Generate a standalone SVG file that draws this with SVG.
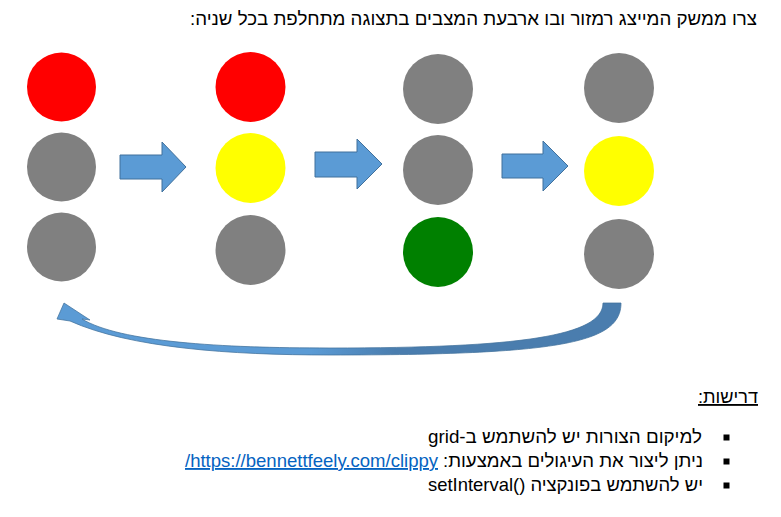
<svg xmlns="http://www.w3.org/2000/svg" width="781" height="517" viewBox="0 0 781 517">
<style>
.t{font-family:"Liberation Sans","DejaVu Sans",sans-serif;font-size:18.5px;fill:#000}
.r{fill:#FF0000}.y{fill:#FFFF00}.g{fill:#808080}.gr{fill:#008000}
.arr{fill:#5B9BD5;stroke:#41719C;stroke-width:1}
.link{font-family:"Liberation Sans","DejaVu Sans",sans-serif;font-size:18.5px;fill:#0563C1;text-decoration:underline}
</style>
<defs>
<linearGradient id="cg" x1="0" y1="0" x2="1" y2="0">
<stop offset="0" stop-color="#5B9BD5"/>
<stop offset="0.45" stop-color="#5B9BD5"/>
<stop offset="0.6" stop-color="#4A7DAE"/>
<stop offset="1" stop-color="#4A7DAE"/>
</linearGradient>
</defs>
<rect width="781" height="517" fill="#fff"/>
<text class="t" x="757" y="25" direction="rtl" text-anchor="start" textLength="567" lengthAdjust="spacingAndGlyphs">צרו ממשק המייצג רמזור ובו ארבעת המצבים בתצוגה מתחלפת בכל שניה:</text>
<g id="light1">
<circle class="r" cx="61.5" cy="87" r="34.5"/>
<circle class="g" cx="61.5" cy="167" r="34.5"/>
<circle class="g" cx="61.5" cy="247" r="34.5"/>
</g>
<g id="light2">
<circle class="r" cx="250.5" cy="87" r="35"/>
<circle class="y" cx="250.5" cy="168" r="35"/>
<circle class="g" cx="250.5" cy="250" r="35"/>
</g>
<g id="light3">
<circle class="g" cx="438" cy="89" r="35"/>
<circle class="g" cx="438" cy="170" r="35"/>
<circle class="gr" cx="438" cy="252" r="35"/>
</g>
<g id="light4">
<circle class="g" cx="619" cy="88" r="35"/>
<circle class="y" cx="619" cy="171" r="35"/>
<circle class="g" cx="619" cy="254" r="35"/>
</g>
<g id="connectors">
<polygon class="arr" points="120,155 162,155 162,142 186,167 162,192 162,179 120,179"/>
<polygon class="arr" points="315,152 357,152 357,139 382,164 357,189 357,177 315,177"/>
<polygon class="arr" points="502,154 543,154 543,141 568,166 543,191 543,178 502,178"/>
<path fill="url(#cg)" stroke="#41719C" stroke-width="0.75" d="M603 303 L621 303 C621 343 560 355 330 355 C230 355 130 348 70 321 L57 319 L64 303 L90 320 L82 319 C120 342 220 348 330 348 C520 348 603 336 603 303 Z"/>
</g>
<g id="requirements">
<text class="t" x="758" y="403" direction="rtl" text-anchor="start" text-decoration="underline" textLength="60" lengthAdjust="spacingAndGlyphs">דרישות:</text>
<rect x="723.5" y="434.5" width="6" height="6" fill="#000"/>
<rect x="723.5" y="458.5" width="6" height="6" fill="#000"/>
<rect x="723.5" y="482.5" width="6" height="6" fill="#000"/>
<text class="t" x="702" y="443" direction="rtl" text-anchor="start" textLength="274" lengthAdjust="spacingAndGlyphs">למיקום הצורות יש להשתמש ב-grid</text>
<text class="t" x="703" y="467" direction="rtl" text-anchor="start" textLength="260" lengthAdjust="spacingAndGlyphs">ניתן ליצור את העיגולים באמצעות:</text>
<text class="link" x="185" y="467" textLength="253" lengthAdjust="spacingAndGlyphs">/https://bennettfeely.com/clippy</text>
<text class="t" x="703" y="491" direction="rtl" text-anchor="start" textLength="275" lengthAdjust="spacingAndGlyphs">יש להשתמש בפונקציה ()setInterval</text>
</g>
</svg>
